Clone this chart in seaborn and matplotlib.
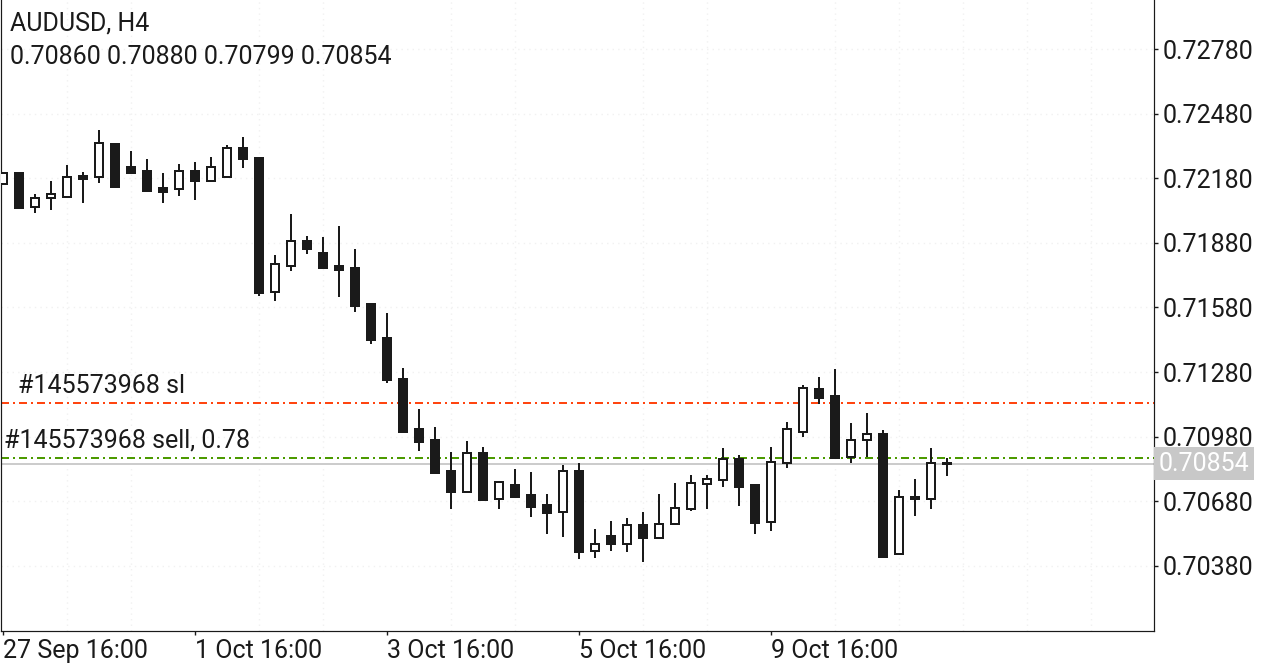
import matplotlib
matplotlib.use("Agg")
import matplotlib.pyplot as plt
import matplotlib.transforms as mtransforms
import numpy as np
import pandas as pd
import seaborn as sns

# ------ DATA (AUDUSD H4) ------
opens = [0.72155, 0.72203, 0.72045, 0.72087, 0.72092, 0.72190, 0.72187, 0.72339, 0.72231, 0.72214,
         0.72135, 0.72129, 0.72214, 0.72166, 0.72184, 0.72319, 0.72275, 0.71650, 0.71774, 0.71889,
         0.71832, 0.71773, 0.71763, 0.71596, 0.71437, 0.71248, 0.71016, 0.70965, 0.70821, 0.70725,
         0.70904, 0.70690, 0.70755, 0.70708, 0.70662, 0.70629, 0.70821, 0.70450, 0.70518, 0.70481,
         0.70569, 0.70508, 0.70573, 0.70643, 0.70761, 0.70779, 0.70877, 0.70756, 0.70585, 0.70857,
         0.71000, 0.71202, 0.71169, 0.70885, 0.70963, 0.70993, 0.70434, 0.70702, 0.70690, 0.70860]
highs = [0.72208, 0.72207, 0.72107, 0.72167, 0.72241, 0.72208, 0.72404, 0.72342, 0.72306, 0.72268,
         0.72203, 0.72246, 0.72254, 0.72277, 0.72334, 0.72370, 0.72280, 0.71824, 0.72014, 0.71912,
         0.71907, 0.71958, 0.71852, 0.71599, 0.71554, 0.71299, 0.71109, 0.71025, 0.70909, 0.70960,
         0.70934, 0.70774, 0.70830, 0.70816, 0.70714, 0.70850, 0.70858, 0.70550, 0.70589, 0.70601,
         0.70629, 0.70714, 0.70767, 0.70802, 0.70800, 0.70928, 0.70895, 0.70757, 0.70932, 0.71048,
         0.71220, 0.71257, 0.71294, 0.71044, 0.71090, 0.71011, 0.70733, 0.70784, 0.70928, 0.70880]
lows = [0.72152, 0.72040, 0.72017, 0.72033, 0.72091, 0.72064, 0.72157, 0.72133, 0.72203, 0.72118,
        0.72064, 0.72099, 0.72079, 0.72165, 0.72183, 0.72226, 0.71635, 0.71611, 0.71751, 0.71830,
        0.71763, 0.71630, 0.71560, 0.71410, 0.71229, 0.71000, 0.70914, 0.70807, 0.70644, 0.70723,
        0.70684, 0.70644, 0.70700, 0.70607, 0.70528, 0.70516, 0.70414, 0.70418, 0.70451, 0.70446,
        0.70400, 0.70504, 0.70572, 0.70637, 0.70644, 0.70748, 0.70660, 0.70530, 0.70544, 0.70836,
        0.70980, 0.71132, 0.70882, 0.70859, 0.70885, 0.70422, 0.70433, 0.70613, 0.70646, 0.70799]
closes = [0.72205, 0.72043, 0.72087, 0.72105, 0.72184, 0.72178, 0.72342, 0.72141, 0.72206, 0.72121,
          0.72118, 0.72214, 0.72167, 0.72231, 0.72319, 0.72268, 0.71649, 0.71780, 0.71889, 0.71853,
          0.71765, 0.71755, 0.71588, 0.71429, 0.71243, 0.71002, 0.70956, 0.70812, 0.70723, 0.70904,
          0.70686, 0.70768, 0.70702, 0.70655, 0.70627, 0.70820, 0.70446, 0.70481, 0.70481, 0.70569,
          0.70508, 0.70576, 0.70648, 0.70764, 0.70782, 0.70875, 0.70748, 0.70581, 0.70861, 0.71014,
          0.71205, 0.71161, 0.70883, 0.70963, 0.70991, 0.70423, 0.70699, 0.70690, 0.70857, 0.70854]

date_ticks = [0, 12, 24, 36, 48]
date_labels = ["27 Sep 16:00", "1 Oct 16:00", "3 Oct 16:00", "5 Oct 16:00", "9 Oct 16:00"]
price_ticks = [0.70380, 0.70680, 0.70980, 0.71280, 0.71580, 0.71880, 0.72180, 0.72480, 0.72780]

symbol = "AUDUSD, H4"
sl_price = 0.71137
sell_price = 0.70883
sl_label = "#145573968 sl"
sell_label = "#145573968 sell, 0.78"

# ------ PREP ------
df = pd.DataFrame({"open": opens, "high": highs, "low": lows, "close": closes})
df["x"] = np.arange(len(df))
df["bull"] = df.close >= df.open
df["bottom"] = df[["open", "close"]].min(axis=1)
df["height"] = (df.close - df.open).abs().clip(lower=0.00004)
last = df.iloc[-1]

# ------ CHART ------
sns.set_theme(style="white")
plt.rcParams["font.family"] = ["Roboto", "DejaVu Sans"]
plt.rcParams["lines.scale_dashes"] = False

ink = "#1a1a1a"
px = 0.72  # one pixel in points at dpi 100
fs = 18

fig = plt.figure(figsize=(12.8, 6.67), dpi=100)
ax = fig.add_axes([1 / 1280, 36 / 667, 1153 / 1280, 631 / 667])

# wicks
ax.vlines(df.x, df.low, df.high, color=ink, lw=2 * px, zorder=3)
# bodies
ax.bar(df.x[df.bull], df.height[df.bull], bottom=df.bottom[df.bull], width=0.5,
       color="white", edgecolor=ink, linewidth=2 * px, zorder=4)
ax.bar(df.x[~df.bull], df.height[~df.bull], bottom=df.bottom[~df.bull], width=0.5,
       color=ink, edgecolor=ink, linewidth=2 * px, zorder=4)

# trade levels and current price
dashdot = (0, (8 * px, 4 * px, 2 * px, 4 * px))
ax.axhline(sl_price, color="#ff4510", lw=2 * px, linestyle=dashdot, zorder=2)
ax.axhline(sell_price, color="#4c9a00", lw=2 * px, linestyle=dashdot, zorder=2)
ax.axhline(last.close, color="#cccccc", lw=2 * px, zorder=1)

ax.annotate(sl_label, (0.94, sl_price), xytext=(0, 17), textcoords="offset pixels",
            fontsize=fs, color=ink, va="center", ha="left")
ax.annotate(sell_label, (0.06, sell_price), xytext=(0, 17), textcoords="offset pixels",
            fontsize=fs, color=ink, va="center", ha="left")

# axes
ax.set_xlim(-0.125, 71.94)
ax.set_ylim(0.70078, 0.730075)

ax.yaxis.tick_right()
ax.set_yticks(price_ticks)
ax.set_yticklabels([f"{p:.5f}" for p in price_ticks])
ax.tick_params(axis="y", which="major", right=True, length=3, width=1, color=ink,
               labelsize=fs, labelcolor=ink, pad=3)

ax.set_xticks(date_ticks)
ax.set_xticklabels(date_labels, ha="left")
ax.set_xticks(np.arange(0, 72, 4), minor=True)
ax.tick_params(axis="x", which="major", bottom=True, length=3, width=1, color=ink,
               labelsize=fs, labelcolor=ink, pad=3)
ax.tick_params(axis="x", which="minor", bottom=False, length=0)

ax.grid(True, axis="x", which="minor", color="#f1f1f1", linestyle=(0, (1, 3)), lw=1)
ax.grid(True, axis="y", which="major", color="#f1f1f1", linestyle=(0, (1, 3)), lw=1)
ax.grid(False, axis="x", which="major")

sns.despine(ax=ax, top=True, right=False, left=False, bottom=False)
for side in ["left", "right", "bottom"]:
    ax.spines[side].set_color(ink)
    ax.spines[side].set_linewidth(1.2 * px)

# current price tag on the price scale
tag = mtransforms.blended_transform_factory(ax.transAxes, ax.transData)
ax.text(1.004, last.close, f"{last.close:.5f}", transform=tag, fontsize=fs,
        color="white", va="center", ha="left", clip_on=False,
        bbox=dict(boxstyle="square,pad=0.18", facecolor="#c8c8c8", edgecolor="none"))

# header
fig.text(10 / 1280, 1 - 23 / 667, symbol, fontsize=fs, color=ink, va="center", ha="left")
fig.text(10 / 1280, 1 - 57 / 667,
         f"{last.open:.5f} {last.high:.5f} {last.low:.5f} {last.close:.5f}",
         fontsize=fs, color=ink, va="center", ha="left")

fig.savefig("out.png", dpi=100)
